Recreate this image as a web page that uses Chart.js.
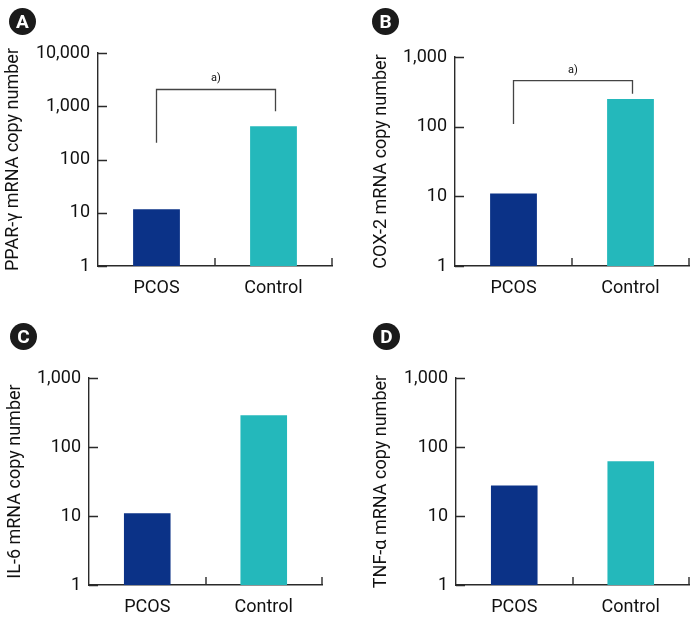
<!DOCTYPE html>
<html>
<head>
<meta charset="utf-8">
<script src="https://cdn.jsdelivr.net/npm/chart.js@4.4.0/dist/chart.umd.min.js"></script>
<style>
  body { margin: 0; background: #fff; }
  #wrap { position: relative; width: 698px; height: 623px; }
  canvas { position: absolute; }
  .tag {
    position: absolute; width: 27px; height: 27px; border-radius: 50%;
    background: #1b1b1b; color: #fff; font: bold 19px Roboto, sans-serif;
    text-align: center; line-height: 27px;
  }
</style>
</head>
<body>
<div id="wrap">
  <canvas id="chartA" width="349" height="311" style="left:0;top:0"></canvas>
  <canvas id="chartB" width="349" height="311" style="left:349px;top:0"></canvas>
  <canvas id="chartC" width="349" height="312" style="left:0;top:311px"></canvas>
  <canvas id="chartD" width="349" height="312" style="left:349px;top:311px"></canvas>
  <div class="tag" style="left:9px;top:8px">A</div>
  <div class="tag" style="left:372px;top:8px">B</div>
  <div class="tag" style="left:10px;top:323px">C</div>
  <div class="tag" style="left:373px;top:323px">D</div>
</div>
<script>
// data
const categories = ['PCOS', 'Control'];
const pparValues = [11.6, 423];
const cox2Values = [11.0, 250];
const il6Values = [11.0, 288];
const tnfValues = [27.7, 62.3];

const ticksTo10000 = [1, 10, 100, 1000, 10000];
const ticksTo1000 = [1, 10, 100, 1000];

// significance brackets: [left leg end, bracket top, right leg end]
const bracketA = [206, 2065, 809];
const bracketB = [109, 459, 298];

const barColors = ['#0b3287', '#24b8bb'];
const inkColor = '#2a2a2a';
const textColor = '#111';

Chart.defaults.font.family = 'Roboto, sans-serif';
Chart.defaults.font.size = 18;
Chart.defaults.color = textColor;

// inner tick marks + bracket
const extrasPlugin = {
    id: 'extras',
    afterDraw(chart, args, opts) {
        const ctx = chart.ctx;
        const area = chart.chartArea;
        const x = chart.scales.x;
        const y = chart.scales.y;
        ctx.save();
        ctx.strokeStyle = inkColor;
        ctx.lineWidth = 1.4;
        ctx.beginPath();
        y.ticks.forEach(t => {
            const py = Math.round(y.getPixelForValue(t.value)) + 0.5;
            ctx.moveTo(area.left, py);
            ctx.lineTo(area.left + 9, py);
        });
        for (let i = 0; i < categories.length; i++) {
            const px = Math.round(x.getPixelForValue(i + 0.5));
            ctx.moveTo(px, area.bottom);
            ctx.lineTo(px, area.bottom - 8);
        }
        ctx.stroke();

        if (opts.bracket) {
            const b = opts.bracket;
            const x1 = x.getPixelForValue(0);
            const x2 = x.getPixelForValue(1) + 2;
            const yTop = y.getPixelForValue(b[1]);
            ctx.strokeStyle = '#444';
            ctx.lineWidth = 1.3;
            ctx.beginPath();
            ctx.moveTo(x1, y.getPixelForValue(b[0]));
            ctx.lineTo(x1, yTop);
            ctx.lineTo(x2, yTop);
            ctx.lineTo(x2, y.getPixelForValue(b[2]));
            ctx.stroke();
            ctx.fillStyle = textColor;
            ctx.font = '11px Roboto, sans-serif';
            ctx.textAlign = 'center';
            ctx.textBaseline = 'alphabetic';
            ctx.fillText('a)', (x1 + x2) / 2, yTop - 8);
        }
        ctx.restore();
    }
};

function makeChart(id, values, tickValues, title, box, bracket) {
    const ctx = document.getElementById(id).getContext('2d');
    return new Chart(ctx, {
        type: 'bar',
        data: {
            labels: categories,
            datasets: [{
                data: values,
                backgroundColor: barColors,
                borderWidth: 0,
                barPercentage: 0.4,
                categoryPercentage: 1
            }]
        },
        options: {
            responsive: false,
            animation: false,
            layout: {
                padding: { left: 0, top: box.top, right: box.w - box.right, bottom: 0 }
            },
            plugins: {
                legend: { display: false },
                tooltip: { enabled: false },
                extras: { bracket: bracket }
            },
            scales: {
                x: {
                    grid: { display: true, drawOnChartArea: false, drawTicks: false },
                    border: { display: true, color: inkColor, width: 1.4 },
                    ticks: { padding: 12, color: textColor },
                    afterFit: s => { s.height = box.h - box.bottom; }
                },
                y: {
                    type: 'logarithmic',
                    min: 1,
                    max: tickValues[tickValues.length - 1],
                    grid: { display: true, drawOnChartArea: false, drawTicks: false },
                    border: { display: true, color: inkColor, width: 1.4 },
                    afterBuildTicks: s => { s.ticks = tickValues.map(v => ({ value: v })); },
                    ticks: {
                        padding: 8,
                        color: textColor,
                        callback: v => Number(v).toLocaleString('en-US')
                    },
                    title: {
                        display: true,
                        text: title,
                        color: textColor,
                        font: { size: 18 },
                        padding: { top: box.titlePad, bottom: 0 }
                    },
                    afterFit: s => { s.width = box.left; }
                }
            }
        },
        plugins: [extrasPlugin]
    });
}

makeChart('chartA', pparValues, ticksTo10000, 'PPAR-γ mRNA copy number',
    { w: 349, h: 311, left: 98, right: 332, top: 53, bottom: 266, titlePad: 3 }, bracketA);
makeChart('chartB', cox2Values, ticksTo1000, 'COX-2 mRNA copy number',
    { w: 349, h: 311, left: 106, right: 340, top: 57, bottom: 266, titlePad: 22 }, bracketB);
makeChart('chartC', il6Values, ticksTo1000, 'IL-6 mRNA copy number',
    { w: 349, h: 312, left: 89, right: 322, top: 67, bottom: 274, titlePad: 5 }, null);
makeChart('chartD', tnfValues, ticksTo1000, 'TNF-α mRNA copy number',
    { w: 349, h: 312, left: 107, right: 340, top: 67, bottom: 274, titlePad: 22 }, null);
</script>
</body>
</html>
